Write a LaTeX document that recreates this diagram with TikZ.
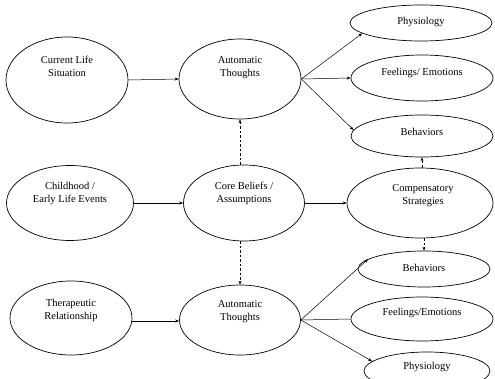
\documentclass[tikz,border=0pt]{standalone}
\usepackage{fontspec}
\setmainfont{Liberation Serif}
\usetikzlibrary{shapes.geometric,arrows.meta}
\begin{document}
\begin{tikzpicture}[x=1pt,y=-1pt,
  oval/.style={draw,ellipse,line width=0.7pt,inner sep=0pt},
  lbl/.style={font=\fontsize{10.5}{13}\selectfont,align=center,inner sep=0pt},
  arr/.style={-{Stealth[length=4pt,width=3pt]},line width=0.5pt},
  darr/.style={arr,dashed,dash pattern=on 2.5pt off 2pt}]
\useasboundingbox (0,0) rectangle (495,379);
\clip (0,0) rectangle (495,379);
% ellipses
\node[oval,minimum width=122pt,minimum height=86pt] (cls) at (67,80) {};
\node[oval,minimum width=122pt,minimum height=80pt] (at1) at (240,79) {};
\node[oval,minimum width=142pt,minimum height=36pt] (ph1) at (421,23) {};
\node[oval,minimum width=142pt,minimum height=46pt] (fe1) at (422,78) {};
\node[oval,minimum width=142pt,minimum height=42pt] (be1) at (422,136) {};
\node[oval,minimum width=127pt,minimum height=75pt] (ch) at (70,203) {};
\node[oval,minimum width=121pt,minimum height=76pt] (cb) at (244,203) {};
\node[oval,minimum width=146pt,minimum height=70pt] (cs) at (420,203) {};
\node[oval,minimum width=122pt,minimum height=74pt] (tr) at (71,318) {};
\node[oval,minimum width=121pt,minimum height=70pt] (at2) at (240,320) {};
\node[oval,minimum width=132pt,minimum height=36pt] (be2) at (424,269) {};
\node[oval,minimum width=142pt,minimum height=44pt] (fe2) at (422,319) {};
\node[oval,minimum width=126pt,minimum height=38pt] (ph2) at (427,371) {};
% labels
\node[lbl] (t1) at (67,66) {Current Life\\Situation};
\node[lbl] (t2) at (240,68) {Automatic\\Thoughts};
\node[lbl] (t3) at (421,22) {Physiology};
\node[lbl] (t4) at (422,73) {Feelings/ Emotions};
\node[lbl] (t5) at (422,132) {Behaviors};
\node[lbl] (t6) at (70,193) {Childhood /\\Early Life Events};
\node[lbl] (t7) at (244,193) {Core Beliefs /\\Assumptions};
\node[lbl] (t8) at (423,196) {Compensatory\\Strategies};
\node[lbl] (t9) at (71,310) {Therapeutic\\Relationship};
\node[lbl] (t10) at (240,312) {Automatic\\Thoughts};
\node[lbl] (t11) at (424,268) {Behaviors};
\node[lbl] (t12) at (422,313) {Feelings/Emotions};
\node[lbl] (t13) at (427,367) {Physiology};
% connectors
\draw[arr] (cls.east) -- (at1.west);
\draw[arr] (ch.east) -- (cb.west);
\draw[arr] (tr.east |- 0,321) -- (at2.west |- 0,321);
\draw[arr] (cb.east) -- (cs.west);
\draw[arr] (at1.east) -- (ph1.190);
\draw[arr] (at1.east) -- (fe1.west);
\draw[arr] (at1.east) -- (be1.175);
\draw[darr] (cb.north -| at1.south) -- (at1.south);
\draw[darr] (cb.south -| at2.north) -- (at2.north);
\draw[darr] (cs.north -| be1.south) -- (be1.south);
\draw[darr] (cs.south -| be2.north) -- (be2.north);
\draw[arr] (at2.east) -- (be2.170);
\draw[line width=0.5pt] (at2.east) -- (fe2.west);
\draw[arr] (at2.east) -- (ph2.170);
\end{tikzpicture}
\end{document}
